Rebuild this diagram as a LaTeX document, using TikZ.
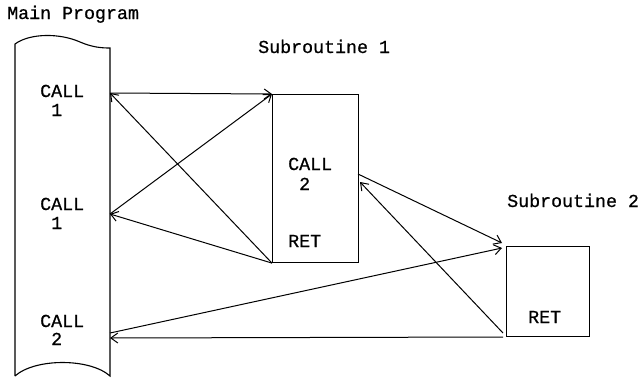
\documentclass[tikz,border=0pt]{standalone}
\usepackage{fontspec}
\newfontfamily\tw[FakeBold=0.7]{Liberation Mono}
\usetikzlibrary{arrows.meta}
\tikzset{
  lbl/.style={font=\tw\fontsize{18.3}{20}\selectfont, inner sep=0pt, anchor=base west},
  box/.style={draw, line width=1.1pt, inner sep=0pt, anchor=north west},
  arr/.style={line width=1pt, -{Straight Barb[length=7pt,width=10pt,line width=1pt]}},
}
\begin{document}
\begin{tikzpicture}[x=1pt,y=-1pt]
\useasboundingbox (0,0) rectangle (644,378);
% main program tape
\draw[line width=1.1pt] (15,376) -- (15,44)
  .. controls (30,33) and (60,33) .. (80,42)
  .. controls (92,47) and (100,48) .. (110,48) -- (110,376)
  .. controls (90,358) and (35,358) .. (15,376);
\node[lbl] (mp) at (7,19) {Main Program};
\node[lbl] (ca) at (40,97) {CALL};
\node[lbl] (na) at (51,116) {1};
\node[lbl] (cb) at (40,210) {CALL};
\node[lbl] (nb) at (51,229) {1};
\node[lbl] (cc) at (40,327) {CALL};
\node[lbl] (nc) at (51,345) {2};
\coordinate (m1) at (110,93);
\coordinate (m2) at (110,214);
\coordinate (m3) at (110,338);
\coordinate (m3s) at (110,333);
% subroutine 1
\node[lbl] (t1) at (258,53) {Subroutine 1};
\node[box, minimum width=86pt, minimum height=168pt] (s1) at (272,94) {};
\node[lbl] (cd) at (288,170) {CALL};
\node[lbl] (nd) at (299,190) {2};
\node[lbl] (r1) at (288,247) {RET};
\coordinate (s1out) at (358,174);
\coordinate (s1in) at (360,182);
% subroutine 2
\node[lbl] (t2) at (507,207) {Subroutine 2};
\node[box, minimum width=83pt, minimum height=90pt] (s2) at (506,246) {};
\node[lbl] (r2) at (528,323) {RET};
\coordinate (s2a) at (502,243);
\coordinate (s2b) at (502,248);
\coordinate (s2c) at (503,333);
\coordinate (s2d) at (503,337);
% connectors
\draw[arr] (m1) -- (s1.north west);
\draw[arr] (s1.south west) -- (m1);
\draw[arr] (m2) -- (s1.north west);
\draw[arr] (s1.south west) -- (m2);
\draw[arr] (s1out) -- (s2a);
\draw[arr] (m3s) -- (s2b);
\draw[arr] (s2c) -- (s1in);
\draw[arr] (s2d) -- (m3);
\end{tikzpicture}
\end{document}
